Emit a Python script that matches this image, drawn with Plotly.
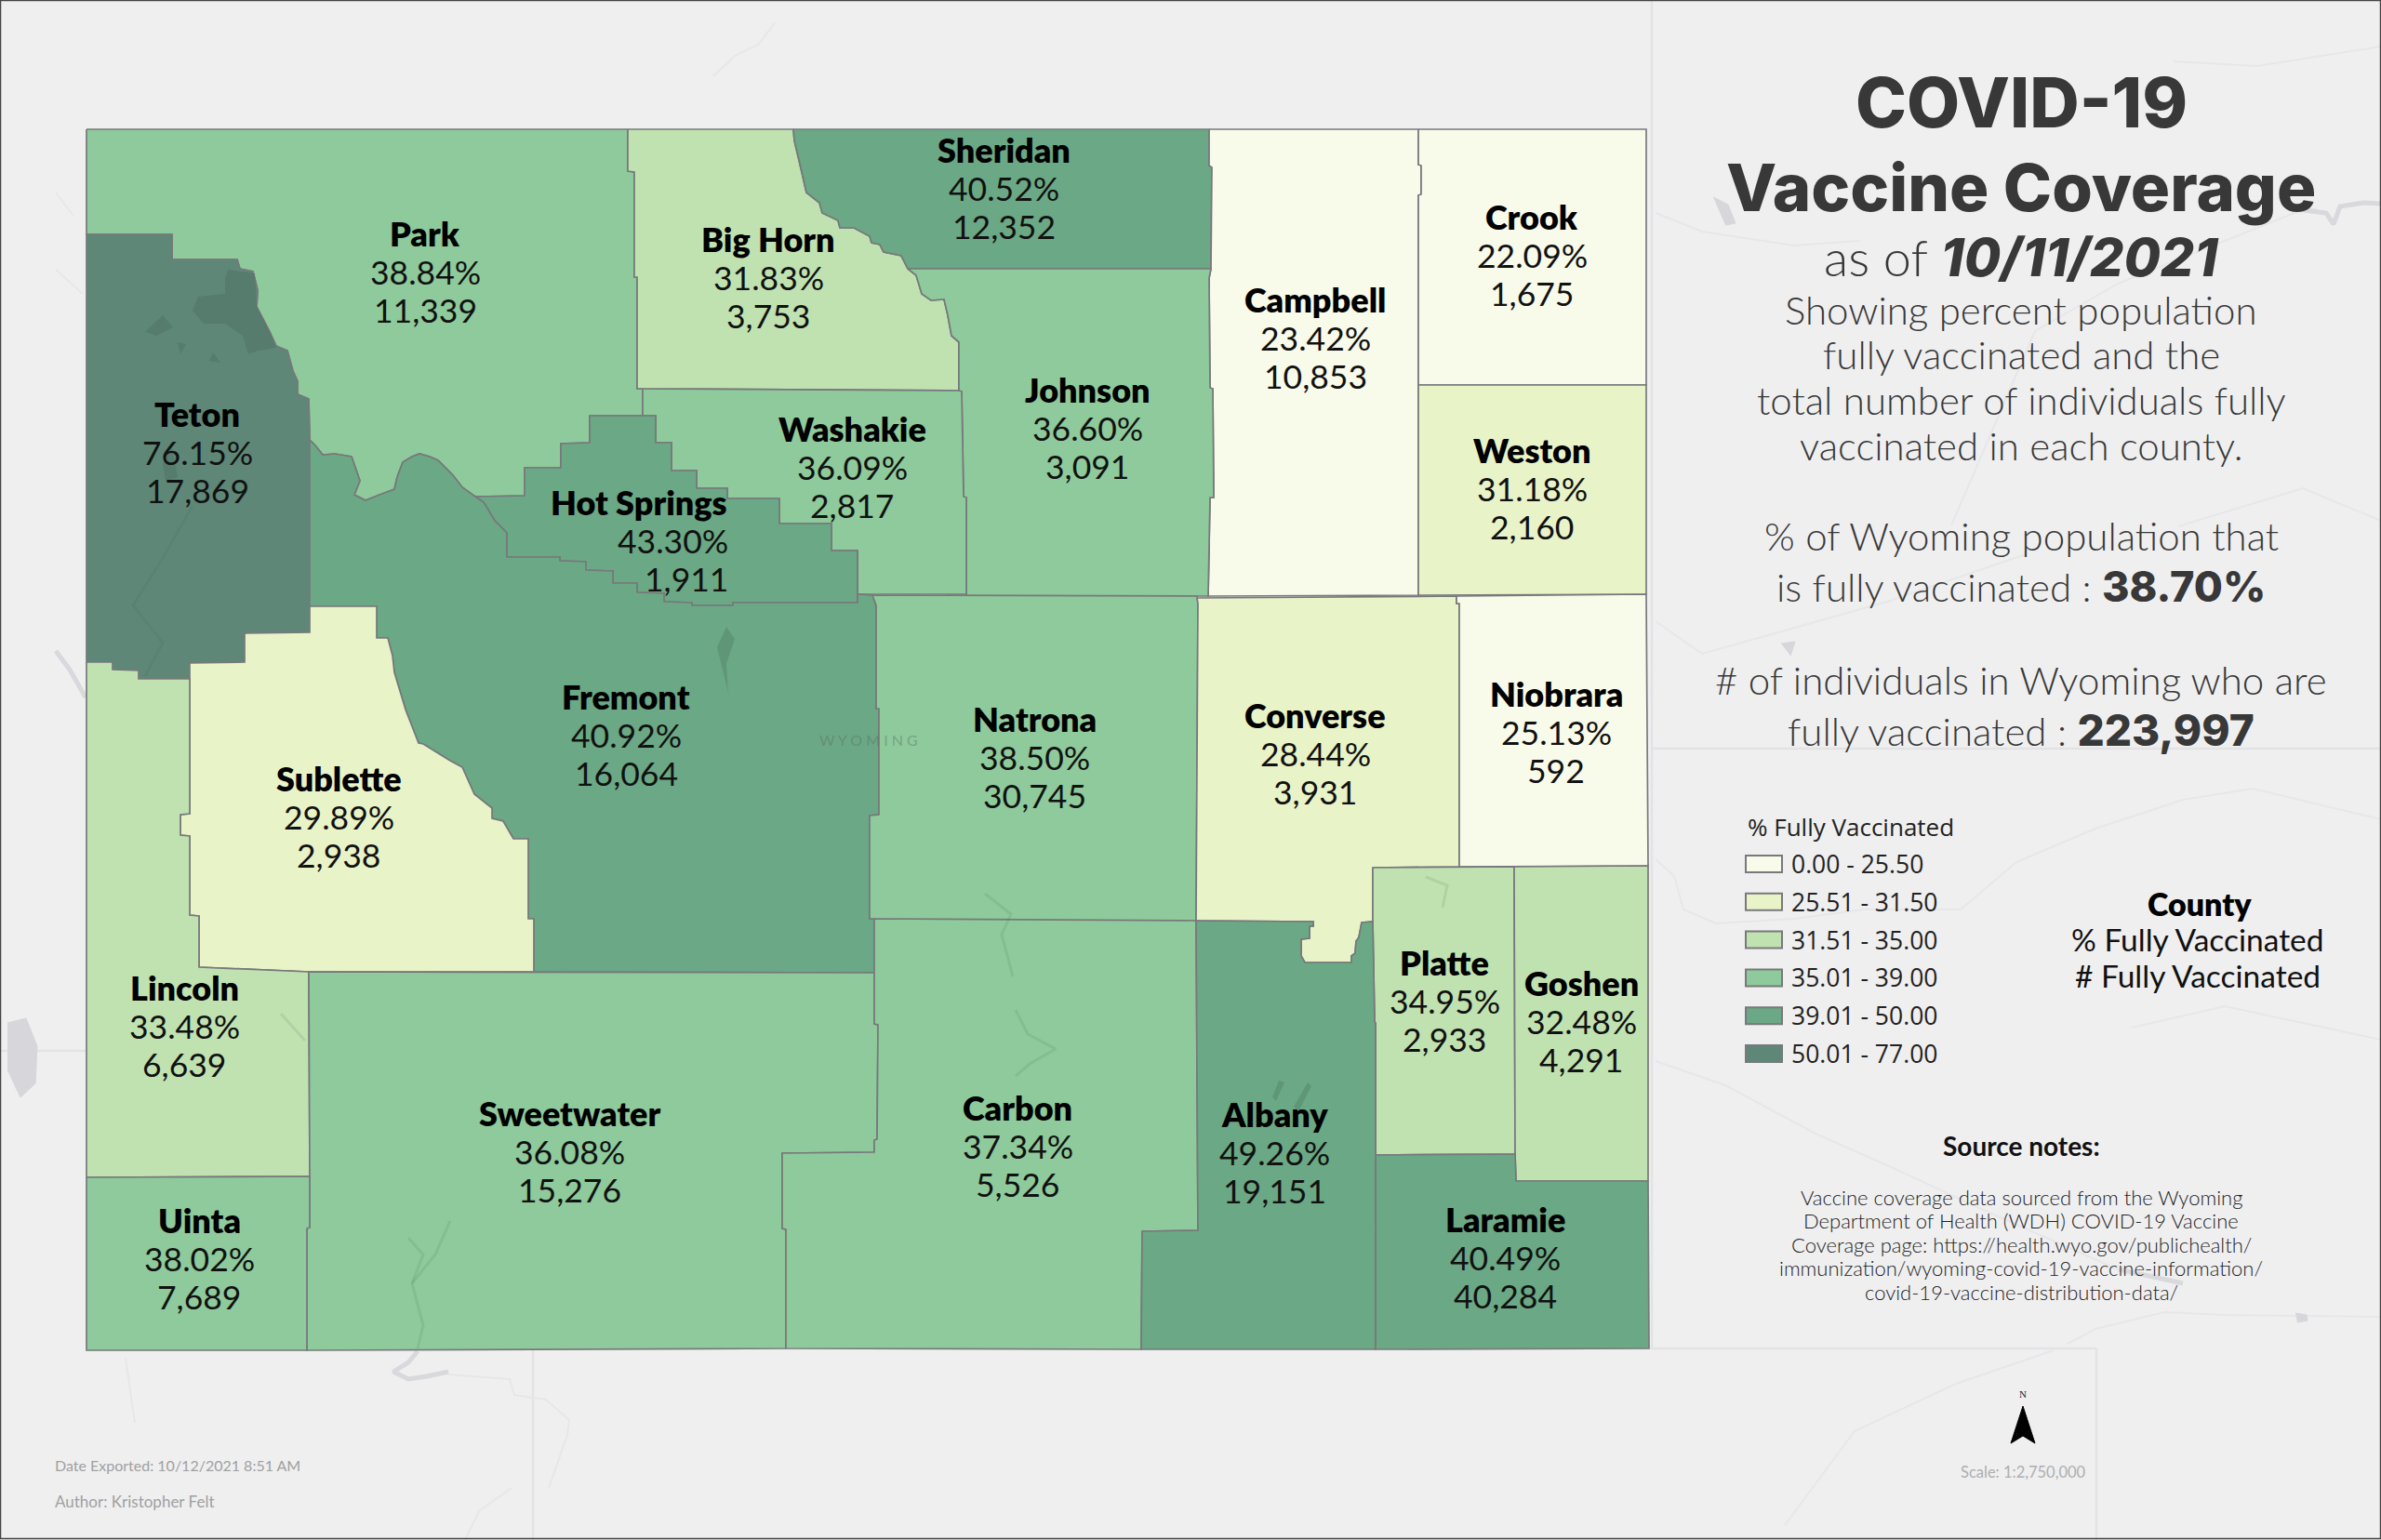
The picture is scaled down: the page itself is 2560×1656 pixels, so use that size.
import plotly.graph_objects as go

# county values
county_names = ["Park", "Big Horn", "Sheridan", "Campbell", "Crook", "Johnson", "Washakie", "Weston",
                "Teton", "Hot Springs", "Fremont", "Natrona", "Converse", "Niobrara", "Sublette", "Lincoln",
                "Platte", "Goshen", "Sweetwater", "Carbon", "Albany", "Laramie", "Uinta"]
county_pct = [38.84, 31.83, 40.52, 23.42, 22.09, 36.60, 36.09, 31.18,
              76.15, 43.30, 40.92, 38.50, 28.44, 25.13, 29.89, 33.48,
              34.95, 32.48, 36.08, 37.34, 49.26, 40.49, 38.02]
county_count = [11339, 3753, 12352, 10853, 1675, 3091, 2817, 2160,
                17869, 1911, 16064, 30745, 3931, 592, 2938, 6639,
                2933, 4291, 15276, 5526, 19151, 40284, 7689]

# class breaks and colours of the legend
class_upper = [25.50, 31.50, 35.00, 39.00, 50.00, 77.00]
class_labels = ["0.00 - 25.50", "25.51 - 31.50", "31.51 - 35.00", "35.01 - 39.00", "39.01 - 50.00", "50.01 - 77.00"]
class_colors = ["#f8faea", "#e9f3c8", "#c0e2b1", "#8eca9b", "#6ba885", "#5e8777"]

# shared county boundaries, in map units
teton_park = [(93, 252), (185, 252), (185, 279), (255, 279), (258, 289), (272, 292), (277, 312), (276, 330),
              (290, 357), (297, 372), (309, 377), (315, 399), (320, 410), (320, 424), (332, 429)]
park_fremont = [(333, 473), (339, 479), (347, 489), (360, 488), (378, 491), (387, 517), (381, 532), (393, 538),
                (408, 532), (424, 526), (427, 513), (433, 497), (443, 491), (451, 488), (462, 491), (471, 495),
                (487, 511), (497, 524), (511, 534)]
hot_south = [(511, 534), (520, 540), (532, 560), (545, 573), (545, 599), (602, 599), (602, 603), (630, 604),
             (630, 613), (659, 614), (659, 627), (685, 627), (685, 637), (714, 638), (714, 647), (744, 648),
             (744, 651), (788, 651), (788, 648), (922, 648)]
hot_west = [(511, 534), (564, 533), (564, 503), (603, 503), (603, 477), (634, 476), (634, 447)]
hot_east = [(691, 447), (705, 447), (705, 476), (722, 476), (722, 506), (749, 506), (749, 525), (782, 525),
            (782, 536), (838, 536), (838, 563), (894, 563), (894, 592), (922, 592), (922, 639)]
sublette_fremont = [(405, 652), (405, 686), (417, 686), (422, 705), (424, 723), (436, 763), (450, 799), (455, 800),
                    (484, 818), (497, 825), (510, 854), (529, 869), (529, 880), (541, 883), (552, 902), (568, 902),
                    (568, 988), (574, 988), (574, 1045)]
sublette_west = [(204, 730), (204, 875), (194, 876), (194, 898), (204, 899), (204, 984), (214, 985), (214, 1040),
                 (332, 1045)]
teton_south = [(333, 680), (263, 681), (263, 712), (204, 713), (204, 730), (149, 730), (149, 721), (121, 720),
               (121, 712), (93, 712)]
bighorn_sheridan = [(853, 139), (854, 151), (860, 176), (867, 207), (881, 218), (884, 229), (901, 237), (903, 245),
                    (918, 245), (935, 254), (937, 261), (946, 263), (950, 271), (969, 275), (976, 289)]
bighorn_johnson = [(976, 289), (985, 296), (991, 316), (1001, 323), (1015, 322), (1019, 339), (1023, 361),
                   (1031, 368), (1031, 420)]
johnson_campbell = [(1300, 139), (1300, 178), (1303, 180), (1302, 289), (1300, 299), (1301, 417), (1304, 418),
                    (1305, 535), (1301, 535), (1299, 641)]
natrona_fremont = [(938, 640), (942, 651), (942, 762), (945, 762), (945, 876), (935, 877), (935, 988), (940, 988)]
sweetwater_carbon = [(940, 1046), (940, 1101), (944, 1102), (943, 1225), (940, 1226), (940, 1239), (841, 1240),
                     (841, 1321), (845, 1322), (845, 1450)]
converse_albany = [(1286, 990), (1412, 991), (1412, 996), (1408, 996), (1408, 1009), (1399, 1010), (1399, 1028),
                   (1403, 1035), (1453, 1035), (1453, 1028), (1457, 1025), (1458, 1012), (1461, 1008), (1464, 992),
                   (1476, 991)]
platte_albany = [(1476, 933), (1476, 991), (1478, 1099), (1479, 1100), (1479, 1242)]

outlines = {
    "Park": [(93, 139), (675, 139), (675, 184), (682, 185), (682, 298), (685, 298), (685, 418), (691, 418), (691, 447),
             (634, 447)] + hot_west[::-1][1:] + park_fremont[::-1][1:] + [(332, 429)] + teton_park[::-1][1:],
    "Big Horn": [(675, 139)] + bighorn_sheridan + bighorn_johnson[1:] + [(685, 418), (685, 298), (682, 298), (682, 185), (675, 184)],
    "Sheridan": bighorn_sheridan + [(1302, 289), (1303, 180), (1300, 178), (1300, 139)],
    "Campbell": johnson_campbell + [(1525, 640), (1525, 210), (1528, 209), (1528, 178), (1525, 177), (1525, 139)],
    "Crook": [(1525, 139), (1770, 139), (1770, 414), (1525, 414), (1525, 210), (1528, 209), (1528, 178), (1525, 177)],
    "Johnson": bighorn_johnson + [(1034, 421), (1036, 534), (1039, 535), (1039, 641), (1299, 641)] + johnson_campbell[::-1][1:-3],
    "Washakie": [(685, 418), (1031, 420), (1034, 421), (1036, 534), (1039, 535), (1039, 639), (922, 639)] + hot_east[::-1][1:] + [(691, 418)],
    "Weston": [(1525, 414), (1770, 414), (1770, 639), (1525, 640)],
    "Teton": teton_park + [(333, 473), (333, 680)] + teton_south[1:],
    "Hot Springs": hot_south + [(922, 639)] + hot_east[::-1][1:] + [(634, 447)] + hot_west[::-1][1:],
    "Fremont": park_fremont + hot_south[1:] + [(922, 639), (938, 640)] + natrona_fremont[1:] + [(940, 1046)] +
               sublette_fremont[::-1] + [(333, 652)],
    "Natrona": natrona_fremont + [(940, 1046), (1286, 990), (1288, 649), (1287, 641), (938, 640)],
    "Converse": [(1287, 643), (1566, 641), (1566, 649), (1569, 649), (1569, 932), (1476, 933)] + converse_albany[::-1][:-1] + [(1286, 990), (1288, 649)],
    "Niobrara": [(1566, 641), (1770, 639), (1772, 931), (1569, 932), (1569, 649), (1566, 649)],
    "Sublette": [(333, 652)] + sublette_fremont + [(332, 1045)] + sublette_west[::-1][1:] + [(204, 713), (263, 712), (263, 681), (333, 680)],
    "Lincoln": teton_south[::-1][:6] + sublette_west[1:] + [(333, 1265), (93, 1266)],
    "Platte": [(1476, 933), (1628, 932), (1629, 1241)] + platte_albany[::-1][:-1],
    "Goshen": [(1628, 932), (1772, 931), (1772, 1270), (1630, 1270), (1629, 1241)],
    "Sweetwater": [(332, 1045), (940, 1046)] + sweetwater_carbon[1:] + [(330, 1452), (330, 1321), (333, 1320), (333, 1265)],
    "Carbon": [(940, 988), (1286, 990), (1288, 1323), (1228, 1324), (1227, 1451)] + sweetwater_carbon[::-1],
    "Albany": converse_albany + platte_albany[1:] + [(1479, 1451), (1227, 1451), (1228, 1324), (1288, 1323)],
    "Laramie": [(1479, 1242), (1629, 1241), (1630, 1270), (1772, 1270), (1773, 1450), (1479, 1451)],
    "Uinta": [(93, 1266), (333, 1265), (333, 1320), (330, 1321), (330, 1452), (93, 1452)],
}

# where each county label sits: name, then percent, then count
label_name = [(457, 251), (826, 257), (1079, 161), (1414, 322), (1647, 233), (1169, 419), (916, 461), (1647, 484),
              (212, 445), (687, 540), (673, 749), (1112, 773), (1414, 769), (1673, 746), (364, 837), (198, 1062),
              (1553, 1035), (1700, 1057), (612, 1197), (1094, 1191), (1370, 1198), (1618, 1311), (214, 1312)]
label_pct = {"Hot Springs": (723, 581)}
label_cnt = {"Hot Springs": (738, 622)}

# faint basemap rivers and borders
state_lines = [[(1776, 0), (1776, 1450)], [(1776, 805), (2560, 805)], [(573, 1452), (573, 1656)],
               [(573, 1450), (2254, 1450)], [(2254, 1450), (2254, 1656)], [(0, 1130), (93, 1130)]]
rivers = [[(767, 82), (790, 60), (815, 48), (833, 25)],
          [(1780, 924), (1800, 942), (1810, 978), (1845, 993), (1929, 988), (2004, 978), (2108, 978), (2168, 927),
           (2253, 891), (2347, 860), (2422, 848), (2560, 881)],
          [(1780, 1141), (1855, 1167), (1954, 1220), (2029, 1253), (2128, 1299), (2277, 1365)],
          [(2223, 1445), (2253, 1429), (2327, 1411), (2392, 1414), (2560, 1416)],
          [(1919, 1640), (1994, 1539), (2103, 1488), (2208, 1452)],
          [(2292, 1105), (2392, 1082), (2560, 1118)],
          [(1780, 229), (1830, 249), (1929, 264), (1999, 259)],
          [(2277, 305), (2392, 259), (2467, 229), (2491, 224)],
          [(2337, 66), (2427, 71), (2560, 50)],
          [(2098, 565), (2188, 356), (2277, 305)],
          [(2342, 566), (2476, 525), (2560, 560)],
          [(1780, 668), (1830, 703), (1919, 678), (2029, 647), (2178, 596)],
          [(60, 207), (79, 232)], [(60, 290), (89, 316)],
          [(482, 1478), (548, 1483), (553, 1500), (587, 1505), (612, 1527), (610, 1543), (590, 1600)],
          [(500, 1656), (515, 1625), (550, 1600)], [(135, 1460), (145, 1530)]]
wide_water = [[(449, 1453), (439, 1465), (423, 1475), (439, 1483), (459, 1480), (482, 1475)],
              [(60, 700), (75, 720), (92, 750)], [(2477, 226), (2501, 229), (2509, 241), (2516, 222), (2541, 218), (2560, 219)],
              [(2278, 1365), (2320, 1374), (2347, 1380)]]
lakes = [[(8, 1100), (28, 1095), (40, 1125), (38, 1165), (22, 1180), (8, 1150)],
         [(2468, 1412), (2480, 1414), (2481, 1420), (2470, 1422)],
         [(1842, 212), (1858, 220), (1866, 240), (1855, 242)],
         [(1915, 692), (1930, 690), (1925, 705)]]
# darker water inside the state
inner_water = [[(245, 290), (274, 294), (276, 330), (290, 357), (297, 374), (277, 377), (267, 381), (261, 361),
                (242, 348), (219, 348), (207, 334), (213, 319), (242, 316), (242, 299)],
               [(156, 357), (175, 339), (186, 352), (168, 361)], [(191, 368), (200, 370), (194, 381)],
               [(229, 379), (237, 390), (225, 388)], [(175, 499), (184, 477), (191, 513), (178, 517)],
               [(781, 674), (790, 687), (781, 714), (783, 745), (771, 696)],
               [(1375, 1162), (1381, 1164), (1372, 1184), (1368, 1180)], [(1406, 1164), (1410, 1168), (1396, 1195), (1391, 1190)]]
inner_rivers = [[(207, 544), (175, 600), (143, 651), (175, 691), (156, 727)],
                [(439, 1331), (455, 1349), (443, 1380), (455, 1425), (449, 1450)],
                [(484, 1313), (468, 1349), (443, 1380)], [(302, 1090), (328, 1119)],
                [(1059, 961), (1087, 983), (1077, 1005), (1089, 1050)],
                [(1092, 1086), (1105, 1112), (1135, 1128), (1107, 1144), (1092, 1157)],
                [(1533, 943), (1556, 952), (1551, 976)]]

fig = go.Figure()


def poly(pts, **kw):
    fig.add_trace(go.Scatter(x=[p[0] for p in pts], y=[p[1] for p in pts], hoverinfo="skip", showlegend=False, **kw))


def put(x, y, text, size, color="black", weight=400, family="Lato", anchor="center"):
    fig.add_annotation(x=x, y=y, xref="x", yref="y", text=text, showarrow=False, xanchor=anchor, yanchor="middle",
                       font=dict(family=family, size=size, color=color, weight=weight))


def heavy(text, size):
    return f'<span style="font-family:Inter;font-weight:800;font-size:{size}px">{text}</span>'


def class_color(v):
    for upper, col in zip(class_upper, class_colors):
        if v <= upper:
            return col
    return class_colors[-1]


# basemap
for line in state_lines:
    poly(line, mode="lines", line=dict(color="#e3e3e5", width=2.5))
for line in rivers:
    poly(line, mode="lines", line=dict(color="#e7e7ea", width=2))
for line in wide_water:
    poly(line, mode="lines", line=dict(color="#d8d8dd", width=5))
for lake in lakes:
    poly(lake, mode="lines", fill="toself", fillcolor="#d6d6db", line=dict(color="#d6d6db", width=1))

# counties
for name, pct in zip(county_names, county_pct):
    poly(outlines[name] + outlines[name][:1], mode="lines", fill="toself", fillcolor=class_color(pct),
         line=dict(color="#77797b", width=1.7))
for lake in inner_water:
    poly(lake, mode="lines", fill="toself", fillcolor="rgba(50,80,70,0.2)", line=dict(color="rgba(0,0,0,0)", width=0))
for line in inner_rivers:
    poly(line, mode="lines", line=dict(color="rgba(60,110,80,0.13)", width=3))

# county labels
for name, pct, cnt, pos in zip(county_names, county_pct, county_count, label_name):
    px, py = label_pct.get(name, (pos[0], pos[1] + 41))
    cx, cy = label_cnt.get(name, (pos[0], pos[1] + 82))
    put(pos[0], pos[1], name, 36, weight=800)
    put(px, py, f"{pct:.2f}%", 35.5, color="#111111", weight=400)
    put(cx, cy, f"{cnt:,}", 35.5, color="#111111", weight=400)
put(934, 795, "W Y O M I N G", 16, color="rgba(90,110,100,0.45)")

# title block
ink = "#383838"
put(2173, 110, "COVID-19", 74, color=ink, weight=800, family="Inter")
put(2173, 201, "Vaccine Coverage", 70.5, color=ink, weight=800, family="Inter")
put(2173, 276, "as of " + heavy("<i>10/11/2021</i>", 57), 54, color=ink, weight=300)
put(2173, 333, "Showing percent population", 42, color=ink, weight=300)
put(2173, 381, "fully vaccinated and the", 42, color=ink, weight=300)
put(2173, 430, "total number of individuals fully", 42, color=ink, weight=300)
put(2173, 479, "vaccinated in each county.", 42, color=ink, weight=300)
put(2173, 576, "% of Wyoming population that", 42, color=ink, weight=300)
put(2173, 630, "is fully vaccinated : " + heavy("38.70%", 45), 42, color=ink, weight=300)
put(2173, 731, "# of individuals in Wyoming who are", 42, color=ink, weight=300)
put(2173, 785, "fully vaccinated : " + heavy("223,997", 46), 42, color=ink, weight=300)

# legend
put(1877, 889, "% Fully Vaccinated", 26, color="#222222", family="Open Sans", anchor="left")
for i, (lab, col) in enumerate(zip(class_labels, class_colors)):
    y0 = 920 + i * 40.8
    fig.add_shape(type="rect", xref="x", yref="y", x0=1877, x1=1916, y0=y0, y1=y0 + 18, fillcolor=col,
                  line=dict(color="#77797b", width=2))
    put(1924, y0 + 9, lab, 26.5, color="#222222", family="Open Sans", anchor="left")

put(2365, 971, "County", 34, weight=800)
put(2363, 1010, "% Fully Vaccinated", 33.5, color="#111111")
put(2363, 1049, "# Fully Vaccinated", 33.5, color="#111111")

# source notes
put(2173, 1232, "Source notes:", 28, color="#111111", weight=700)
notes = ["Vaccine coverage data sourced from the Wyoming", "Department of Health (WDH) COVID-19 Vaccine",
         "Coverage page: https://health.wyo.gov/publichealth/", "immunization/wyoming-covid-19-vaccine-information/",
         "covid-19-vaccine-distribution-data/"]
for i, line in enumerate(notes):
    put(2173, 1287 + i * 25.5, line, 22, color="#222222", weight=300)

# north arrow, scale, credits
poly([(2175, 1512), (2188, 1552), (2175, 1544), (2162, 1552), (2175, 1512)], mode="lines", fill="toself",
     fillcolor="black", line=dict(color="black", width=1))
put(2175, 1499, "N", 11, color="#222222", family="Liberation Serif")
put(2175, 1583, "Scale: 1:2,750,000", 16.5, color="#aeaeae")
put(57, 1575, "Date Exported: 10/12/2021 8:51 AM", 16, color="#a0a0a0", anchor="left")
put(57, 1614, "Author: Kristopher Felt", 17, color="#a0a0a0", anchor="left")

# page frame
fig.add_shape(type="rect", xref="x", yref="y", x0=0.5, x1=2559.5, y0=0.5, y1=1654.5, line=dict(color="#444444", width=1.5))

fig.update_xaxes(range=[0, 2560], visible=False, fixedrange=True)
fig.update_yaxes(range=[1656, 0], visible=False, fixedrange=True)
fig.update_layout(width=2560, height=1656, margin=dict(l=0, r=0, t=0, b=0), paper_bgcolor="#efeff0",
                  plot_bgcolor="#efeff0", showlegend=False)

fig.write_html("out.html", post_script="document.body.style.margin='0';document.body.style.overflow='hidden';",
               config={"displayModeBar": False})
